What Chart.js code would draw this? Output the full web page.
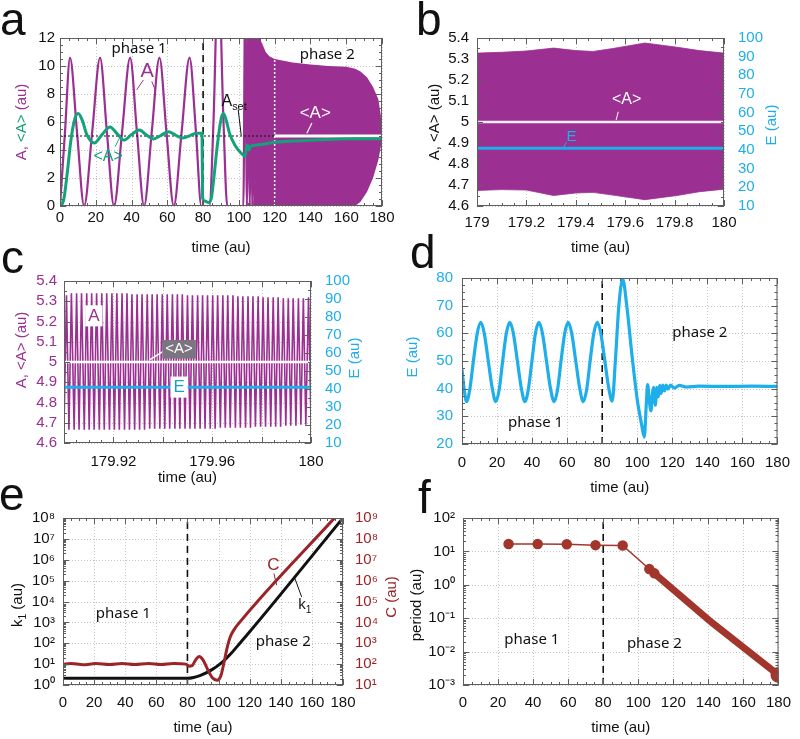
<!DOCTYPE html>
<html lang="pt-br">
<head>
<meta charset="UTF-8">
<title>Fases do oscilador</title>
<script src="https://cdn.jsdelivr.net/npm/chart.js"></script>
<style>
  body { margin: 0; width: 800px; height: 739px; position: relative; overflow: hidden; background: #fff; font-family: "Liberation Sans", Arial, sans-serif; }
  canvas { position: absolute; }
  .letra { position: absolute; font-size: 46px; line-height: 46px; color: #111; }
</style>
</head>
<body>
<canvas id="grafA" width="400" height="258" style="left:0;top:0"></canvas>
<canvas id="grafB" width="400" height="258" style="left:400px;top:0"></canvas>
<canvas id="grafC" width="400" height="232" style="left:0;top:258px"></canvas>
<canvas id="grafD" width="400" height="242" style="left:400px;top:258px"></canvas>
<canvas id="grafE" width="400" height="249" style="left:0;top:490px"></canvas>
<canvas id="grafF" width="400" height="249" style="left:400px;top:490px"></canvas>

<div class="letra" style="left:0;top:-4px">a</div>
<div class="letra" style="left:416px;top:-4px">b</div>
<div class="letra" style="left:1px;top:234px">c</div>
<div class="letra" style="left:410px;top:229px">d</div>
<div class="letra" style="left:-1px;top:471px">e</div>
<div class="letra" style="left:418px;top:474px">f</div>

<script>
// ---------- dados ----------
const fimFase1 = 80;
const aSet = 5;
const inicioMedia = 120;

// painel a: A(t) e <A>(t)
const aTempoA = [0, 2.8, 5.6, 9.5, 13.5, 18, 22.4, 26.2, 30.2, 34.7, 39.2, 43, 47, 51.3, 55.6, 59.5, 63.6, 68, 72.4, 76, 79, 83.5, 85.8, 88.5, 91.4, 93.5, 102.5, 103.5, 104.5, 105.3, 106.1, 106.8, 107.5, 108.1, 108.7, 109.2, 109.7, 110.2, 110.6, 111, 111.4, 111.8];
const aValorA = [0, 5.3, 10.6, 5.3, 0, 5.3, 10.6, 5.3, 0, 5.3, 10.6, 5.3, 0, 5.3, 10.6, 5.3, 0, 5.3, 10.6, 5.3, 0, 0, 6, 17, 6, 0, 0, 15, 0, 15, 0, 15, 0, 15, 0, 15, 0, 15, 0, 15, 0, 15];
const aTempoEnv = [111.5, 113, 115, 117, 120, 130, 140, 150, 160, 165, 168, 171.6, 175, 178, 179.3, 180];
const aEnvSup = [12, 11.6, 11.0, 10.7, 10.5, 10.25, 10.1, 10.0, 9.95, 9.8, 9.6, 9.2, 8.5, 7.6, 6.5, 5.3];
const aEnvInf = [0, 0, 0, 0, 0, 0, 0, 0, 0, 0, 0.3, 1.0, 2.0, 3.3, 4.2, 4.7];
const aTempoMedia = [0, 2, 4, 6, 8, 10.2, 12.5, 15, 19.2, 23.5, 28, 32, 35.8, 40, 44.4, 48.5, 52.2, 56.5, 60.6, 64.8, 68.7, 73, 76.5, 79.4, 79.7, 81, 83, 84.5, 86, 88, 90, 91.3, 92.5, 95, 98, 101, 103.5, 104.3, 105, 105.6, 106.5, 107.5, 110, 115, 120, 130, 140, 150, 165, 180];
const aMedia = [0, 0.4, 2.3, 4.6, 6.1, 6.6, 6.1, 5.1, 4.5, 5.1, 5.65, 5.15, 4.7, 5.1, 5.42, 5.05, 4.78, 5.05, 5.3, 5.05, 4.85, 5.05, 5.2, 5.2, 0.6, 0.35, 0.25, 0.5, 2.0, 4.4, 6.2, 6.6, 6.3, 5.1, 4.3, 3.8, 3.55, 4.2, 4.35, 4.0, 4.25, 4.3, 4.35, 4.45, 4.55, 4.65, 4.7, 4.75, 4.8, 4.8];

// painel b: envelope de A entre 179 e 180
const bTempo = [179, 179.1, 179.2, 179.31, 179.4, 179.47, 179.55, 179.68, 179.81, 179.9, 180];
const bEnvSup = [5.328, 5.332, 5.338, 5.352, 5.34, 5.336, 5.35, 5.376, 5.356, 5.34, 5.328];
const bEnvInf = [4.674, 4.678, 4.676, 4.65, 4.662, 4.665, 4.652, 4.63, 4.65, 4.668, 4.68];
const mediaFinal = 5;
const energiaFinal = 41;

// painel c: picos e vales de A entre 179.90 e 180
const cPicoT = [179.9010, 179.9030, 179.9051, 179.9071, 179.9092, 179.9112, 179.9132, 179.9153, 179.9173, 179.9194, 179.9214, 179.9235, 179.9255, 179.9275, 179.9296, 179.9316, 179.9337, 179.9357, 179.9377, 179.9398, 179.9418, 179.9439, 179.9459, 179.9479, 179.9500, 179.9520, 179.9541, 179.9561, 179.9581, 179.9602, 179.9622, 179.9643, 179.9663, 179.9684, 179.9704, 179.9724, 179.9745, 179.9765, 179.9786, 179.9806, 179.9826, 179.9847, 179.9867, 179.9888, 179.9908, 179.9928, 179.9949, 179.9969, 179.9990];
const cPicoA = [5.33, 5.34, 5.34, 5.34, 5.34, 5.34, 5.34, 5.34, 5.34, 5.34, 5.34, 5.34, 5.34, 5.335, 5.335, 5.335, 5.335, 5.335, 5.335, 5.335, 5.335, 5.335, 5.335, 5.335, 5.33, 5.33, 5.33, 5.33, 5.33, 5.33, 5.33, 5.33, 5.33, 5.33, 5.325, 5.325, 5.325, 5.325, 5.325, 5.32, 5.32, 5.32, 5.32, 5.315, 5.315, 5.315, 5.315, 5.315, 5.32];
const cValeT = [179.9000, 179.9020, 179.9041, 179.9061, 179.9082, 179.9102, 179.9122, 179.9143, 179.9163, 179.9184, 179.9204, 179.9224, 179.9245, 179.9265, 179.9286, 179.9306, 179.9326, 179.9347, 179.9367, 179.9388, 179.9408, 179.9428, 179.9449, 179.9469, 179.9490, 179.9510, 179.9530, 179.9551, 179.9571, 179.9592, 179.9612, 179.9633, 179.9653, 179.9673, 179.9694, 179.9714, 179.9735, 179.9755, 179.9775, 179.9796, 179.9816, 179.9837, 179.9857, 179.9877, 179.9898, 179.9918, 179.9939, 179.9959, 179.9979, 180.0000];
const cValeA = [4.67, 4.665, 4.665, 4.665, 4.665, 4.665, 4.665, 4.665, 4.665, 4.665, 4.665, 4.665, 4.665, 4.665, 4.665, 4.665, 4.665, 4.67, 4.67, 4.67, 4.67, 4.67, 4.67, 4.67, 4.67, 4.67, 4.67, 4.67, 4.67, 4.67, 4.67, 4.675, 4.675, 4.675, 4.675, 4.675, 4.675, 4.675, 4.68, 4.68, 4.68, 4.68, 4.68, 4.68, 4.685, 4.685, 4.685, 4.69, 4.69, 4.69];
const cEtiquetas = ['179.92', '179.96', '180'];

// painel d: E(t)
const dTempo = [0, 1.2, 2.6, 4.5, 6.5, 8.7, 10.7, 12.7, 15, 17.3, 19.3, 21.3, 23.2, 25.3, 27.3, 29.3, 31.6, 33.9, 35.9, 37.9, 39.9, 41.9, 43.9, 45.9, 48.2, 50.5, 52.6, 54.6, 56.5, 58.6, 60.6, 62.6, 64.9, 67.2, 69.2, 71.2, 73.1, 75.2, 77.2, 79.2, 81.5, 83.8, 85.7, 87.5, 89.5, 91.7, 94, 97, 100, 102.5, 104, 105.2, 105.9, 106.8, 107.8, 108.6, 109.3, 110.3, 111.2, 112, 112.8, 113.6, 114.5, 115.5, 116.5, 117.5, 119, 121, 124, 128, 135, 150, 165, 180];
const dEnergia = [47, 40, 35.3, 40, 50, 60, 64, 60, 50, 40, 35.3, 40, 50, 60, 64, 60, 50, 40, 35.3, 40, 50, 60, 64, 60, 50, 40, 35.3, 40, 50, 60, 64, 60, 50, 40, 35.3, 40, 50, 60, 64, 60, 50, 40, 35.5, 50, 70, 79.5, 70, 52, 36, 27, 22.5, 35, 41.5, 36, 32, 38, 40.5, 34, 40.5, 37, 41.2, 38.2, 41.3, 39.2, 41.3, 39.8, 41.3, 40.2, 41.2, 40.6, 40.9, 40.8, 40.9, 40.8];

// painel e: k1(t) e C(t)
const eTempoK = [0, 80, 84, 88, 92, 96, 100, 104, 108, 112, 116, 120, 180];
const eK1 = [2.1, 2.1, 2.3, 2.8, 3.8, 5.6, 8.9, 16, 32, 71, 160, 355, 1e8];
const eTempoC = [0, 5, 13, 21, 30, 38, 46, 55, 63, 71, 79, 81, 83, 85.5, 87.5, 90, 93, 96, 99, 101.5, 103.5, 105.5, 107.5, 110, 113, 175];
const eC = [98, 108, 94, 106, 95, 106, 95, 106, 95, 106, 100, 80, 85, 170, 230, 160, 55, 22, 17, 28, 120, 600, 2000, 4500, 9000, 1.1e9];
const eTicksK = [1, 1e1, 1e2, 1e3, 1e4, 1e5, 1e6, 1e7, 1e8];
const eTicksC = [1e1, 1e2, 1e3, 1e4, 1e5, 1e6, 1e7, 1e8, 1e9];

// painel f: periodo
const fTempo = [26, 42.6, 59.2, 75.6, 91.1, 106.3, 109.2];
const fPeriodo = [16.6, 16.6, 16.4, 15.4, 15.0, 2.96, 2.2];
const fTempoDenso = [109.2, 110.5, 141.8, 180];
const fPeriodoDenso = [2.2, 1.9, 0.075, 0.002];
const fTicks = [1e-3, 1e-2, 1e-1, 1, 1e1, 1e2];

// ---------- cores ----------
const roxo = '#9b2f92';
const verde = '#14a27b';
const azul = '#1eaeea';
const vinho = '#9a2428';
const tijolo = '#a3362c';
const fonteTick = { family: 'Liberation Sans', size: 15 };

Chart.defaults.font.family = 'Liberation Sans';

function pares(xs, ys) {
    return xs.map((x, i) => ({ x: x, y: ys[i] }));
}

function enxuto(v) {
    return String(Math.round(v * 1000) / 1000);
}

function sobrescrito(n) {
    const m = { '-': '\u207B', '0': '\u2070', '1': '\u00B9', '2': '\u00B2', '3': '\u00B3', '4': '\u2074', '5': '\u2075', '6': '\u2076', '7': '\u2077', '8': '\u2078', '9': '\u2079' };
    return String(n).split('').map(c => m[c]).join('');
}

function potencia(v) {
    return '10' + sobrescrito(Math.round(Math.log10(v)));
}

function escreve(ctx, t, x, y) {
    const tam = t.tam || 15;
    const fam = t.fonte || 'Liberation Sans';
    ctx.save();
    ctx.translate(x, y);
    if (t.rot) ctx.rotate(t.rot * Math.PI / 180);
    ctx.textBaseline = 'middle';
    ctx.textAlign = 'left';
    let largura = 0;
    const medidas = t.partes.map(p => {
        const s = p.sub ? tam * 0.68 : tam;
        ctx.font = s + 'px "' + fam + '"';
        const w = ctx.measureText(p.t).width;
        largura += w;
        return { p: p, s: s, w: w };
    });
    let cx = -largura / 2;
    if (t.fundo) {
        ctx.fillStyle = t.fundo;
        ctx.fillRect(cx - 3, -tam * 0.62, largura + 6, tam * 1.24);
    }
    medidas.forEach(m => {
        ctx.font = m.s + 'px "' + fam + '"';
        ctx.fillStyle = m.p.c || t.cor || '#111';
        ctx.fillText(m.p.t, cx, m.p.sub ? tam * 0.32 : 0);
        cx += m.w;
    });
    ctx.restore();
}

// textos e tracos de legenda desenhados por cima dos dados
function anotacoes(textos, tracos) {
    return {
        id: 'anotacoes',
        afterDatasetsDraw(chart) {
            const ctx = chart.ctx;
            const px = (v, eixo) => chart.scales[eixo].getPixelForValue(v);
            (tracos || []).forEach(l => {
                const eixo = l.eixo || 'y';
                ctx.save();
                ctx.strokeStyle = l.cor || '#111';
                ctx.lineWidth = l.larg || 1;
                ctx.beginPath();
                ctx.moveTo(px(l.x1, 'x'), px(l.y1, eixo));
                ctx.lineTo(px(l.x2, 'x'), px(l.y2, eixo));
                ctx.stroke();
                ctx.restore();
            });
            (textos || []).forEach(t => {
                const x = t.px ? t.x : px(t.x, 'x');
                const y = t.px ? t.y : px(t.y, t.eixo || 'y');
                escreve(ctx, t, x, y);
            });
        }
    };
}

// grade pontilhada, moldura e marcas internas
function moldura(sub) {
    const valores = (s, n) => {
        const maj = s.ticks.map(t => t.value);
        const men = [];
        for (let i = 0; i < maj.length - 1; i++) {
            if (s.type === 'logarithmic') {
                for (let k = 2; k < 10; k++) men.push(maj[i] * k);
            } else {
                for (let k = 1; k < n; k++) men.push(maj[i] + (maj[i + 1] - maj[i]) * k / n);
            }
        }
        return { maj: maj, men: men };
    };
    return {
        id: 'moldura',
        beforeDatasetsDraw(chart) {
            const { ctx, chartArea: a, scales } = chart;
            ctx.save();
            ctx.strokeStyle = '#c4c4c4';
            ctx.lineWidth = 1;
            ctx.setLineDash([1, 2]);
            scales.x.ticks.forEach(t => {
                const p = Math.round(scales.x.getPixelForValue(t.value)) + 0.5;
                ctx.beginPath(); ctx.moveTo(p, a.top); ctx.lineTo(p, a.bottom); ctx.stroke();
            });
            scales.y.ticks.forEach(t => {
                const p = Math.round(scales.y.getPixelForValue(t.value)) + 0.5;
                ctx.beginPath(); ctx.moveTo(a.left, p); ctx.lineTo(a.right, p); ctx.stroke();
            });
            ctx.restore();
        },
        afterDraw(chart) {
            const { ctx, chartArea: a, scales } = chart;
            ctx.save();
            ctx.strokeStyle = '#5e5e5e';
            ctx.lineWidth = 1;
            const marca = (s, n, lados) => {
                const v = valores(s, n);
                const desenha = (val, len) => {
                    const p = Math.round(s.getPixelForValue(val)) + 0.5;
                    ctx.beginPath();
                    if (s.isHorizontal()) {
                        ctx.moveTo(p, a.bottom); ctx.lineTo(p, a.bottom - len);
                        ctx.moveTo(p, a.top); ctx.lineTo(p, a.top + len);
                    } else {
                        lados.forEach(lado => {
                            const x0 = lado === 'e' ? a.left : a.right;
                            ctx.moveTo(x0, p); ctx.lineTo(x0 + (lado === 'e' ? len : -len), p);
                        });
                    }
                    ctx.stroke();
                };
                v.maj.forEach(val => desenha(val, 6));
                v.men.forEach(val => desenha(val, 3));
            };
            marca(scales.x, sub.x, null);
            if (scales.y2) {
                marca(scales.y, sub.y, ['e']);
                marca(scales.y2, sub.y2, ['d']);
            } else {
                marca(scales.y, sub.y, ['e', 'd']);
            }
            ctx.strokeRect(a.left + 0.5, a.top + 0.5, a.right - a.left - 1, a.bottom - a.top - 1);
            ctx.restore();
        }
    };
}

function eixoX(min, max, passo, altura, pad, titulo, tituloPad) {
    return {
        type: 'linear', min: min, max: max,
        grid: { display: false, drawTicks: false },
        border: { display: false },
        ticks: { stepSize: passo, color: '#111', font: fonteTick, padding: pad, maxRotation: 0, autoSkip: false, callback: enxuto },
        title: { display: titulo, text: 'time (au)', color: '#111', font: { family: 'Liberation Sans', size: 15 }, padding: { top: 0, bottom: tituloPad } },
        afterFit: s => { s.height = altura; }
    };
}

function eixoY(tipo, min, max, passo, largura, pad, cor, posicao) {
    const e = {
        type: tipo, min: min, max: max, position: posicao || 'left',
        grid: { display: false, drawTicks: false },
        border: { display: false },
        ticks: { color: cor, font: fonteTick, padding: pad, autoSkip: false },
        afterFit: s => { s.width = largura; }
    };
    if (passo) {
        e.ticks.stepSize = passo;
        e.ticks.callback = enxuto;
    }
    return e;
}

function linha(pontos, cor, larg, extra) {
    return Object.assign({
        data: pontos, borderColor: cor, backgroundColor: cor, borderWidth: larg,
        pointRadius: 0, fill: false, tension: 0
    }, extra || {});
}

function opcoesBase(padding, escalas) {
    return {
        responsive: false, animation: false, events: [],
        layout: { padding: padding },
        plugins: { legend: { display: false }, tooltip: { enabled: false } },
        scales: escalas
    };
}

// ---------- painel a ----------
new Chart(document.getElementById('grafA'), {
    type: 'line',
    data: {
        datasets: [
            linha(pares(aTempoMedia, aMedia), verde, 3, { cubicInterpolationMode: 'monotone', order: 1 }),
            linha([{ x: inicioMedia, y: 0 }, { x: inicioMedia, y: 12 }], '#ffffff', 1.5, { borderDash: [2, 2], order: 2 }),
            linha([{ x: inicioMedia, y: aSet }, { x: 180, y: aSet }], '#ffffff', 3, { order: 3 }),
            linha([{ x: 0, y: aSet }, { x: inicioMedia, y: aSet }], '#111', 1, { borderDash: [2, 2], order: 4 }),
            linha([{ x: fimFase1, y: 0 }, { x: fimFase1, y: 12 }], '#111', 1.6, { borderDash: [7, 5], order: 5 }),
            linha(pares(aTempoEnv, aEnvSup), roxo, 0, { fill: '+1', backgroundColor: roxo, order: 6, clip: 0 }),
            linha(pares(aTempoEnv, aEnvInf), roxo, 0, { order: 6, clip: 0 }),
            linha(pares(aTempoA, aValorA), roxo, 2.2, { cubicInterpolationMode: 'monotone', order: 7, clip: 0 })
        ]
    },
    options: opcoesBase({ top: 38, right: 18, left: 0, bottom: 0 }, {
        x: eixoX(0, 180, 20, 52, 3, true, 1),
        y: eixoY('linear', 0, 12, 2, 60, 5, '#111')
    }),
    plugins: [moldura({ x: 4, y: 4 }), anotacoes([
        { px: true, x: 22, y: 122, rot: -90, partes: [{ t: 'A, ', c: roxo }, { t: '<A>', c: verde }, { t: ' (au)', c: roxo }] },
        { x: 44.2, y: 11.2, fonte: 'Noto Sans', tam: 15, partes: [{ t: 'phase 1' }] },
        { x: 149.4, y: 10.8, fonte: 'Noto Sans', tam: 15, partes: [{ t: 'phase 2' }] },
        { x: 48.7, y: 9.6, tam: 20, partes: [{ t: 'A', c: roxo }] },
        { x: 26.9, y: 3.5, tam: 16, partes: [{ t: '<A>', c: verde }] },
        { x: 97.3, y: 7.45, tam: 16, partes: [{ t: 'A' }, { t: 'set', sub: true }] },
        { x: 142.7, y: 6.64, tam: 17, partes: [{ t: '<A>', c: '#ffffff' }] }
    ], [
        { x1: 46.6, y1: 9.0, x2: 42.9, y2: 8.3, cor: roxo },
        { x1: 51.3, y1: 8.9, x2: 53.2, y2: 8.3, cor: roxo },
        { x1: 30.8, y1: 4.24, x2: 33.2, y2: 4.84, cor: verde },
        { x1: 99.6, y1: 6.9, x2: 101.3, y2: 5.05, cor: '#111' },
        { x1: 140.8, y1: 5.93, x2: 138, y2: 5.19, cor: '#ffffff', larg: 1.2 }
    ])]
});

// ---------- painel b ----------
new Chart(document.getElementById('grafB'), {
    type: 'line',
    data: {
        datasets: [
            linha([{ x: 179, y: energiaFinal }, { x: 180, y: energiaFinal }], azul, 3, { yAxisID: 'y2', order: 1 }),
            linha([{ x: 179, y: mediaFinal }, { x: 180, y: mediaFinal }], '#f4eef4', 2.5, { order: 2 }),
            linha(pares(bTempo, bEnvSup), roxo, 0.8, { fill: '+1', backgroundColor: roxo, order: 3 }),
            linha(pares(bTempo, bEnvInf), roxo, 0.8, { order: 3 })
        ]
    },
    options: opcoesBase({ top: 38, right: 0, left: 0, bottom: 0 }, {
        x: eixoX(179, 180, 0.2, 52, 8, true, 1),
        y: eixoY('linear', 4.6, 5.4, 0.1, 77, 8, '#111'),
        y2: eixoY('linear', 10, 100, 10, 76, 14, azul, 'right')
    }),
    plugins: [moldura({ x: 4, y: 2, y2: 2 }), anotacoes([
        { px: true, x: 35, y: 122, rot: -90, partes: [{ t: 'A, <A> (au)' }] },
        { px: true, x: 372, y: 125, rot: -90, partes: [{ t: 'E (au)', c: azul }] },
        { x: 179.606, y: 5.105, tam: 16, partes: [{ t: '<A>', c: '#ffffff' }] },
        { x: 179.383, y: 4.929, tam: 15, partes: [{ t: 'E', c: azul }] }
    ], [
        { x1: 179.572, y1: 5.049, x2: 179.563, y2: 5.009, cor: '#ffffff' },
        { x1: 179.363, y1: 4.905, x2: 179.347, y2: 4.874, cor: azul }
    ])]
});

// ---------- painel c ----------
const cSerieA = pares(cValeT, cValeA).concat(pares(cPicoT, cPicoA)).sort((p, q) => p.x - q.x);
const eixoXc = eixoX(179.9, 180, 0.02, 47, 10, true, 3);
eixoXc.ticks.callback = v => {
    const s = String(Math.round(v * 100) / 100);
    return cEtiquetas.includes(s) ? s : '';
};
new Chart(document.getElementById('grafC'), {
    type: 'line',
    data: {
        datasets: [
            linha([{ x: 179.9, y: energiaFinal }, { x: 180, y: energiaFinal }], azul, 3, { yAxisID: 'y2', order: 1 }),
            linha([{ x: 179.9, y: mediaFinal }, { x: 180, y: mediaFinal }], '#ffffff', 2.5, { order: 2 }),
            linha(cSerieA, roxo, 1.6, { order: 3 })
        ]
    },
    options: opcoesBase({ top: 19, right: 0, left: 0, bottom: 0 }, {
        x: eixoXc,
        y: eixoY('linear', 4.6, 5.4, 0.1, 64, 7, roxo),
        y2: eixoY('linear', 10, 100, 10, 89, 14, azul, 'right')
    }),
    plugins: [moldura({ x: 4, y: 2, y2: 2 }), anotacoes([
        { px: true, x: 22, y: 92, rot: -90, partes: [{ t: 'A, <A> (au)', c: roxo }] },
        { px: true, x: 355, y: 100, rot: -90, partes: [{ t: 'E (au)', c: azul }] },
        { x: 179.9121, y: 5.228, tam: 17, fundo: '#ffffff', partes: [{ t: 'A', c: roxo }] },
        { x: 179.9466, y: 5.063, tam: 15, fundo: '#7b7481', partes: [{ t: '<A>', c: '#ffffff' }] },
        { x: 179.9466, y: 4.876, tam: 17, fundo: '#ffffff', partes: [{ t: 'E', c: '#1a9fc6' }] }
    ], [
        { x1: 179.9348, y1: 5.012, x2: 179.9405, y2: 5.055, cor: '#ffffff', larg: 1.5 }
    ])]
});

// ---------- painel d ----------
new Chart(document.getElementById('grafD'), {
    type: 'line',
    data: {
        datasets: [
            linha(pares(dTempo, dEnergia), azul, 3.2, { cubicInterpolationMode: 'monotone', order: 1 }),
            linha([{ x: fimFase1, y: 20 }, { x: fimFase1, y: 80 }], '#111', 1.6, { borderDash: [7, 5], order: 2 })
        ]
    },
    options: opcoesBase({ top: 20, right: 18, left: 0, bottom: 0 }, {
        x: eixoX(0, 180, 20, 56, 10, true, 3),
        y: eixoY('linear', 20, 80, 10, 62, 9, azul)
    }),
    plugins: [moldura({ x: 4, y: 4 }), anotacoes([
        { px: true, x: 13, y: 99, rot: -90, partes: [{ t: 'E (au)', c: azul }] },
        { x: 42, y: 27.6, fonte: 'Noto Sans', tam: 15, partes: [{ t: 'phase 1' }] },
        { x: 135.7, y: 60.1, fonte: 'Noto Sans', tam: 15, partes: [{ t: 'phase 2' }] }
    ], [])]
});

// ---------- painel e ----------
const yK = eixoY('logarithmic', 1, 1e8, null, 63, 8, '#111');
yK.afterBuildTicks = s => { s.ticks = eTicksK.map(v => ({ value: v })); };
yK.ticks.callback = v => potencia(v);
const yC = eixoY('logarithmic', 1e1, 1e9, null, 57, 12, vinho, 'right');
yC.afterBuildTicks = s => { s.ticks = eTicksC.map(v => ({ value: v })); };
yC.ticks.callback = v => potencia(v);
new Chart(document.getElementById('grafE'), {
    type: 'line',
    data: {
        datasets: [
            linha(pares(eTempoC, eC), vinho, 3, { yAxisID: 'y2', cubicInterpolationMode: 'monotone', order: 1 }),
            linha(pares(eTempoK, eK1), '#111', 3, { cubicInterpolationMode: 'monotone', order: 2 }),
            linha([{ x: fimFase1, y: 1 }, { x: fimFase1, y: 1e8 }], '#111', 1.6, { borderDash: [7, 5], order: 3 })
        ]
    },
    options: opcoesBase({ top: 28, right: 0, left: 0, bottom: 0 }, {
        x: eixoX(0, 180, 20, 54, 9, true, 2),
        y: yK,
        y2: yC
    }),
    plugins: [moldura({ x: 4, y: 9, y2: 9 }), anotacoes([
        { px: true, x: 18, y: 115, rot: -90, partes: [{ t: 'k' }, { t: '1', sub: true }, { t: ' (au)' }] },
        { px: true, x: 392, y: 107, rot: -90, partes: [{ t: 'C (au)', c: vinho }] },
        { x: 38.8, y: 2700, fonte: 'Noto Sans', tam: 15, partes: [{ t: 'phase 1' }] },
        { x: 141.6, y: 118, fonte: 'Noto Sans', tam: 15, partes: [{ t: 'phase 2' }] },
        { x: 135.2, y: 5.5e5, tam: 17, partes: [{ t: 'C', c: vinho }] },
        { x: 155.5, y: 6760, tam: 15, partes: [{ t: 'k' }, { t: '1', sub: true }] }
    ], [
        { x1: 135.6, y1: 2.2e5, x2: 137.4, y2: 6e4, cor: vinho },
        { x1: 153.4, y1: 1.66e4, x2: 149.1, y2: 1.26e5, cor: '#111' }
    ])]
});

// ---------- painel f ----------
const yF = eixoY('logarithmic', 1e-3, 1e2, null, 63, 8, '#111');
yF.afterBuildTicks = s => { s.ticks = fTicks.map(v => ({ value: v })); };
yF.ticks.callback = v => potencia(v);
new Chart(document.getElementById('grafF'), {
    type: 'line',
    data: {
        datasets: [
            linha(pares(fTempoDenso, fPeriodoDenso), tijolo, 7, {
                borderCapStyle: 'round', order: 1,
                pointRadius: c => (c.dataIndex === c.dataset.data.length - 1 ? 4.5 : 0)
            }),
            linha(pares(fTempo, fPeriodo), tijolo, 1.5, { pointRadius: 4.5, order: 2 }),
            linha([{ x: fimFase1, y: 1e-3 }, { x: fimFase1, y: 1e2 }], '#111', 1.6, { borderDash: [7, 5], order: 3 })
        ]
    },
    options: opcoesBase({ top: 28, right: 15, left: 0, bottom: 0 }, {
        x: eixoX(0, 180, 20, 54, 9, true, 2),
        y: yF
    }),
    plugins: [moldura({ x: 4, y: 9 }), anotacoes([
        { px: true, x: 17, y: 115, rot: -90, partes: [{ t: 'period (au)' }] },
        { x: 39.3, y: 0.0224, fonte: 'Noto Sans', tam: 15, partes: [{ t: 'phase 1' }] },
        { x: 109.2, y: 0.0178, fonte: 'Noto Sans', tam: 15, partes: [{ t: 'phase 2' }] }
    ], [])]
});
</script>
</body>
</html>
